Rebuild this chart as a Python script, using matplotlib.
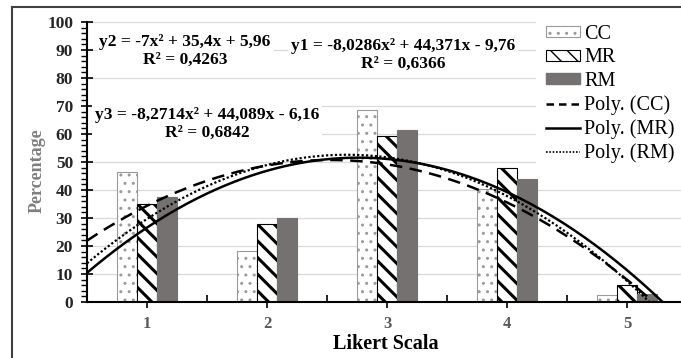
import numpy as np
import matplotlib
matplotlib.use("Agg")
import matplotlib.pyplot as plt
from matplotlib.lines import Line2D
from matplotlib.patches import Patch

# data
likert = [1, 2, 3, 4, 5]
cc = [46.5, 18.3, 68.5, 40.2, 2.5]
mr = [35.0, 28.0, 59.3, 48.0, 6.0]
rm = [37.5, 30.0, 61.5, 44.0, 3.0]

# trendline coefficients (a, b, c) as printed on the chart
poly_cc = [-7.0, 35.4, 5.96]
poly_mr = [-8.0286, 44.371, -9.76]
poly_rm = [-8.2714, 44.089, -6.16]

eq_cc = "y2 = -7x\u00b2 + 35,4x + 5,96\nR\u00b2 = 0,4263"
eq_mr = "y1 = -8,0286x\u00b2 + 44,371x - 9,76\nR\u00b2 = 0,6366"
eq_rm = "y3 = -8,2714x\u00b2 + 44,089x - 6,16\nR\u00b2 = 0,6842"

plt.rcParams['font.family'] = ['Liberation Serif', 'DejaVu Serif']

W, H = 681, 358
fig = plt.figure(figsize=(W / 100, H / 100), dpi=100)
ax = fig.add_axes([87 / W, 1 - 302 / H, 600 / W, 280 / H])

x = np.array(likert, dtype=float)
bw = 1 / 6

plt.rcParams['hatch.linewidth'] = 1.0
ax.bar(x - bw, cc, bw, color='white', edgecolor='#9a9a9a', hatch='..', linewidth=0.8, zorder=2)
plt.rcParams['hatch.linewidth'] = 2.2
ax.bar(x, mr, bw, color='white', edgecolor='black', hatch='\\\\', linewidth=0.8, zorder=2)
plt.rcParams['hatch.linewidth'] = 1.0
ax.bar(x + bw, rm, bw, color='#767171', edgecolor='#767171', linewidth=0.8, zorder=2)

xx = np.linspace(0.5, 5.5, 300)
ax.plot(xx, np.polyval(poly_cc, xx), color='black', lw=1.8, ls=(0, (5, 3)), zorder=3)
ax.plot(xx, np.polyval(poly_mr, xx), color='black', lw=1.8, ls='-', zorder=3)
ax.plot(xx, np.polyval(poly_rm, xx), color='black', lw=1.6, ls=(0, (1, 1)), zorder=3)

ax.set_xlim(0.5, 5.5)
ax.set_ylim(0, 100)
ax.set_yticks(np.arange(0, 101, 10))
ax.set_yticks(np.arange(0, 101, 2), minor=True)
ax.set_xticks(likert)
ax.set_xticks(np.arange(1.5, 5.5, 1), minor=True)
ax.yaxis.grid(True, color='#d9d9d9', lw=0.9, zorder=0)
ax.set_axisbelow(True)

for s in ['top', 'right']:
    ax.spines[s].set_visible(False)
ax.spines['left'].set_linewidth(1.5)
ax.spines['bottom'].set_linewidth(1.5)

ax.tick_params(axis='y', which='major', direction='inout', length=8, width=1.2, pad=6,
               labelsize=12.5, labelcolor='#262626')
ax.tick_params(axis='y', which='minor', direction='out', length=4, width=1.0)
ax.tick_params(axis='x', which='major', direction='out', length=4, width=1.2, pad=6,
               labelsize=12, labelcolor='#595959')
ax.tick_params(axis='x', which='minor', direction='in', length=5, width=1.2)
for lab in ax.get_xticklabels() + ax.get_yticklabels():
    lab.set_fontweight('bold')

fig.text(37 / W, 1 - 171 / H, 'Percentage', rotation=90, ha='center', va='center',
         fontsize=13, fontweight='bold', color='#7f7f7f')
fig.text(386 / W, 1 - 344 / H, 'Likert Scala', ha='center', va='center',
         fontsize=14.5, fontweight='bold', color='black')

box = dict(facecolor='white', edgecolor='none', pad=2)
ax.text(1.317, 89.7, eq_cc, ha='center', va='center', ma='center', fontsize=12.5,
        fontweight='bold', linespacing=1.15, bbox=box, zorder=4)
ax.text(3.133, 88.2, eq_mr, ha='center', va='center', ma='center', fontsize=12.5,
        fontweight='bold', linespacing=1.15, bbox=box, zorder=4)
ax.text(1.5, 63.6, eq_rm, ha='center', va='center', ma='center', fontsize=12.5,
        fontweight='bold', linespacing=1.15, bbox=box, zorder=4)

handles = [
    Patch(facecolor='white', edgecolor='#9a9a9a', hatch='..', lw=0.8),
    Patch(facecolor='white', edgecolor='black', hatch='\\\\', lw=0.8),
    Patch(facecolor='#767171', edgecolor='#767171'),
    Line2D([], [], color='black', lw=1.8, ls=(0, (3, 2))),
    Line2D([], [], color='black', lw=1.8),
    Line2D([], [], color='black', lw=1.2, ls=(0, (1, 1))),
]
labels = ['CC', 'MR', 'RM', 'Poly. (CC)', 'Poly. (MR)', 'Poly. (RM)']
leg = fig.legend(handles, labels, loc='upper left', bbox_to_anchor=(536 / W, 1 - 15 / H),
                 prop={'size': 14.5}, frameon=True, fancybox=False, framealpha=1,
                 edgecolor='none', facecolor='white', handlelength=1.7, handleheight=0.45,
                 handletextpad=0.2, labelspacing=0.22, borderpad=0.5, borderaxespad=0)

# outer chart border (left and top edges visible)
fig.add_artist(Line2D([12 / W, 12 / W], [0, 1 - 7 / H], color='#404040', lw=1.5))
fig.add_artist(Line2D([12 / W, 1], [1 - 7 / H, 1 - 7 / H], color='#404040', lw=1.5))

fig.savefig('out.png', dpi=100)
